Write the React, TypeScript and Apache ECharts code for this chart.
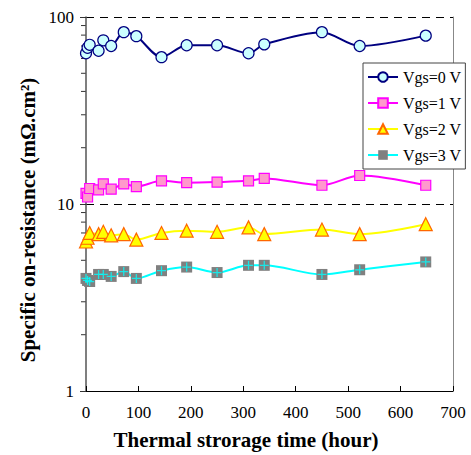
import React, { useEffect, useRef } from "react";
import * as echarts from "echarts";

const hours = [0, 3, 7, 24, 33, 48, 72, 96, 144, 192, 250, 310, 340, 450, 522, 648];
const vgs0 = [64, 68.5, 71, 66, 75, 70, 83, 79, 61, 70.6, 70.6, 64, 71.4, 83, 70, 79.5];
const vgs1 = [11.4, 10.9, 12.1, 11.9, 12.8, 12.0, 12.8, 12.4, 13.3, 13.0, 13.1, 13.3, 13.7, 12.6, 14.2, 12.6];
const vgs2 = [6.3, 6.6, 7.0, 6.9, 7.1, 6.8, 6.9, 6.45, 7.0, 7.2, 7.1, 7.5, 6.9, 7.3, 6.9, 7.8];
const vgs3 = [4.0, 3.9, 3.85, 4.2, 4.2, 4.1, 4.35, 4.0, 4.4, 4.6, 4.3, 4.7, 4.7, 4.2, 4.45, 4.9];
const seriesNames = ["Vgs=0 V", "Vgs=1 V", "Vgs=2 V", "Vgs=3 V"];
const minorTickValues = [2, 3, 4, 5, 6, 7, 8, 9, 20, 30, 40, 50, 60, 70, 80, 90];

const FONT = "'Liberation Serif', 'Times New Roman', serif";
const PLUS = "path://M4.3,0H5.7V4.3H10V5.7H5.7V10H4.3V5.7H0V4.3H4.3Z";

const pairs = (vals: number[]) => hours.map((h, i) => [h, vals[i]]);

export default function App() {
  const ref = useRef<HTMLDivElement>(null);
  useEffect(() => {
    if (!ref.current) return;
    const chart = echarts.init(ref.current, undefined, { renderer: "svg" });
    const option: any = {
      animation: false,
      backgroundColor: "#ffffff",
      grid: { left: 86, right: 18, top: 17, bottom: 64 },
      legend: {
        data: seriesNames,
        orient: "vertical",
        left: 363,
        top: 63,
        padding: [6, 4, 6, 4],
        itemGap: 10,
        itemWidth: 30,
        itemHeight: 12,
        backgroundColor: "#ffffff",
        borderColor: "#444444",
        borderWidth: 1,
        borderRadius: 0,
        textStyle: { fontFamily: FONT, fontSize: 16, color: "#000000", padding: [0, 0, 0, 0] },
      },
      xAxis: {
        type: "value",
        min: 0,
        max: 700,
        interval: 100,
        axisLine: { show: true, onZero: false, lineStyle: { color: "#000000", width: 1 } },
        axisTick: { show: true, inside: true, length: 5, lineStyle: { color: "#000000" } },
        axisLabel: { fontFamily: FONT, fontSize: 17, color: "#000000", margin: 13 },
        splitLine: { show: false },
      },
      yAxis: [
        {
          type: "log",
          logBase: 10,
          min: 1,
          max: 100,
          axisLine: { show: true, lineStyle: { color: "#555555", width: 1.5 } },
          axisTick: { show: true, inside: false, length: 6, lineStyle: { color: "#333333" } },
          axisLabel: { fontFamily: FONT, fontSize: 17, color: "#000000", margin: 12 },
          splitLine: { show: true, lineStyle: { color: "#000000", type: [8, 6], width: 1 } },
        },
        {
          type: "log",
          logBase: 10,
          min: 1,
          max: 100,
          position: "right",
          axisLine: { show: true, lineStyle: { color: "#888888", width: 1 } },
          axisTick: { show: false },
          axisLabel: { show: false },
          splitLine: { show: false },
        },
      ],
      series: [
        {
          name: seriesNames[0],
          type: "line",
          data: pairs(vgs0),
          smooth: 0.3,
          symbol: "circle",
          symbolSize: 11,
          lineStyle: { color: "#000080", width: 2 },
          itemStyle: { color: "#ccffff", borderColor: "#000080", borderWidth: 1.2 },
          z: 5,
        },
        {
          name: seriesNames[1],
          type: "line",
          data: pairs(vgs1),
          smooth: 0.3,
          symbol: "rect",
          symbolSize: 10,
          lineStyle: { color: "#ff00ff", width: 2 },
          itemStyle: { color: "#ff99cc", borderColor: "#ff00ff", borderWidth: 1.2 },
          z: 5,
        },
        {
          name: seriesNames[2],
          type: "line",
          data: pairs(vgs2),
          smooth: 0.3,
          symbol: "triangle",
          symbolSize: 13,
          lineStyle: { color: "#ffff00", width: 2 },
          itemStyle: { color: "#ffff00", borderColor: "#ff6600", borderWidth: 1.2 },
          z: 5,
        },
        {
          name: seriesNames[3],
          type: "line",
          data: pairs(vgs3),
          smooth: 0.3,
          symbol: "rect",
          symbolSize: 11,
          lineStyle: { color: "#00ffff", width: 2 },
          itemStyle: { color: "#808080", borderColor: "#808080", borderWidth: 0 },
          z: 5,
        },
        {
          name: "plus",
          type: "scatter",
          data: pairs(vgs3),
          symbol: PLUS,
          symbolSize: 9,
          itemStyle: { color: "#00ffff" },
          silent: true,
          z: 6,
        },
      ],
    };
    chart.setOption(option);

    const x0 = chart.convertToPixel({ xAxisIndex: 0 }, 0) as number;
    const ticks = minorTickValues.map((v) => {
      const y = chart.convertToPixel({ yAxisIndex: 0 }, v) as number;
      return {
        type: "line",
        shape: { x1: x0 - 5, y1: y, x2: x0, y2: y },
        style: { stroke: "#333333", lineWidth: 1 },
        silent: true,
      };
    });
    chart.setOption({
      graphic: [
        ...ticks,
        {
          type: "text",
          x: 28,
          y: 220,
          rotation: Math.PI / 2,
          style: {
            text: "Specific on-resistance (mΩ.cm²)",
            font: `bold 21px ${FONT}`,
            fill: "#000000",
            align: "center",
            verticalAlign: "middle",
          },
        },
        {
          type: "text",
          x: 246,
          y: 440,
          style: {
            text: "Thermal strorage time (hour)",
            font: `bold 21px ${FONT}`,
            fill: "#000000",
            align: "center",
            verticalAlign: "middle",
          },
        },
      ],
    });
    return () => chart.dispose();
  }, []);
  return (
    <div
      ref={ref}
      style={{ position: "fixed", left: 0, top: 0, width: 471, height: 455 }}
    />
  );
}
